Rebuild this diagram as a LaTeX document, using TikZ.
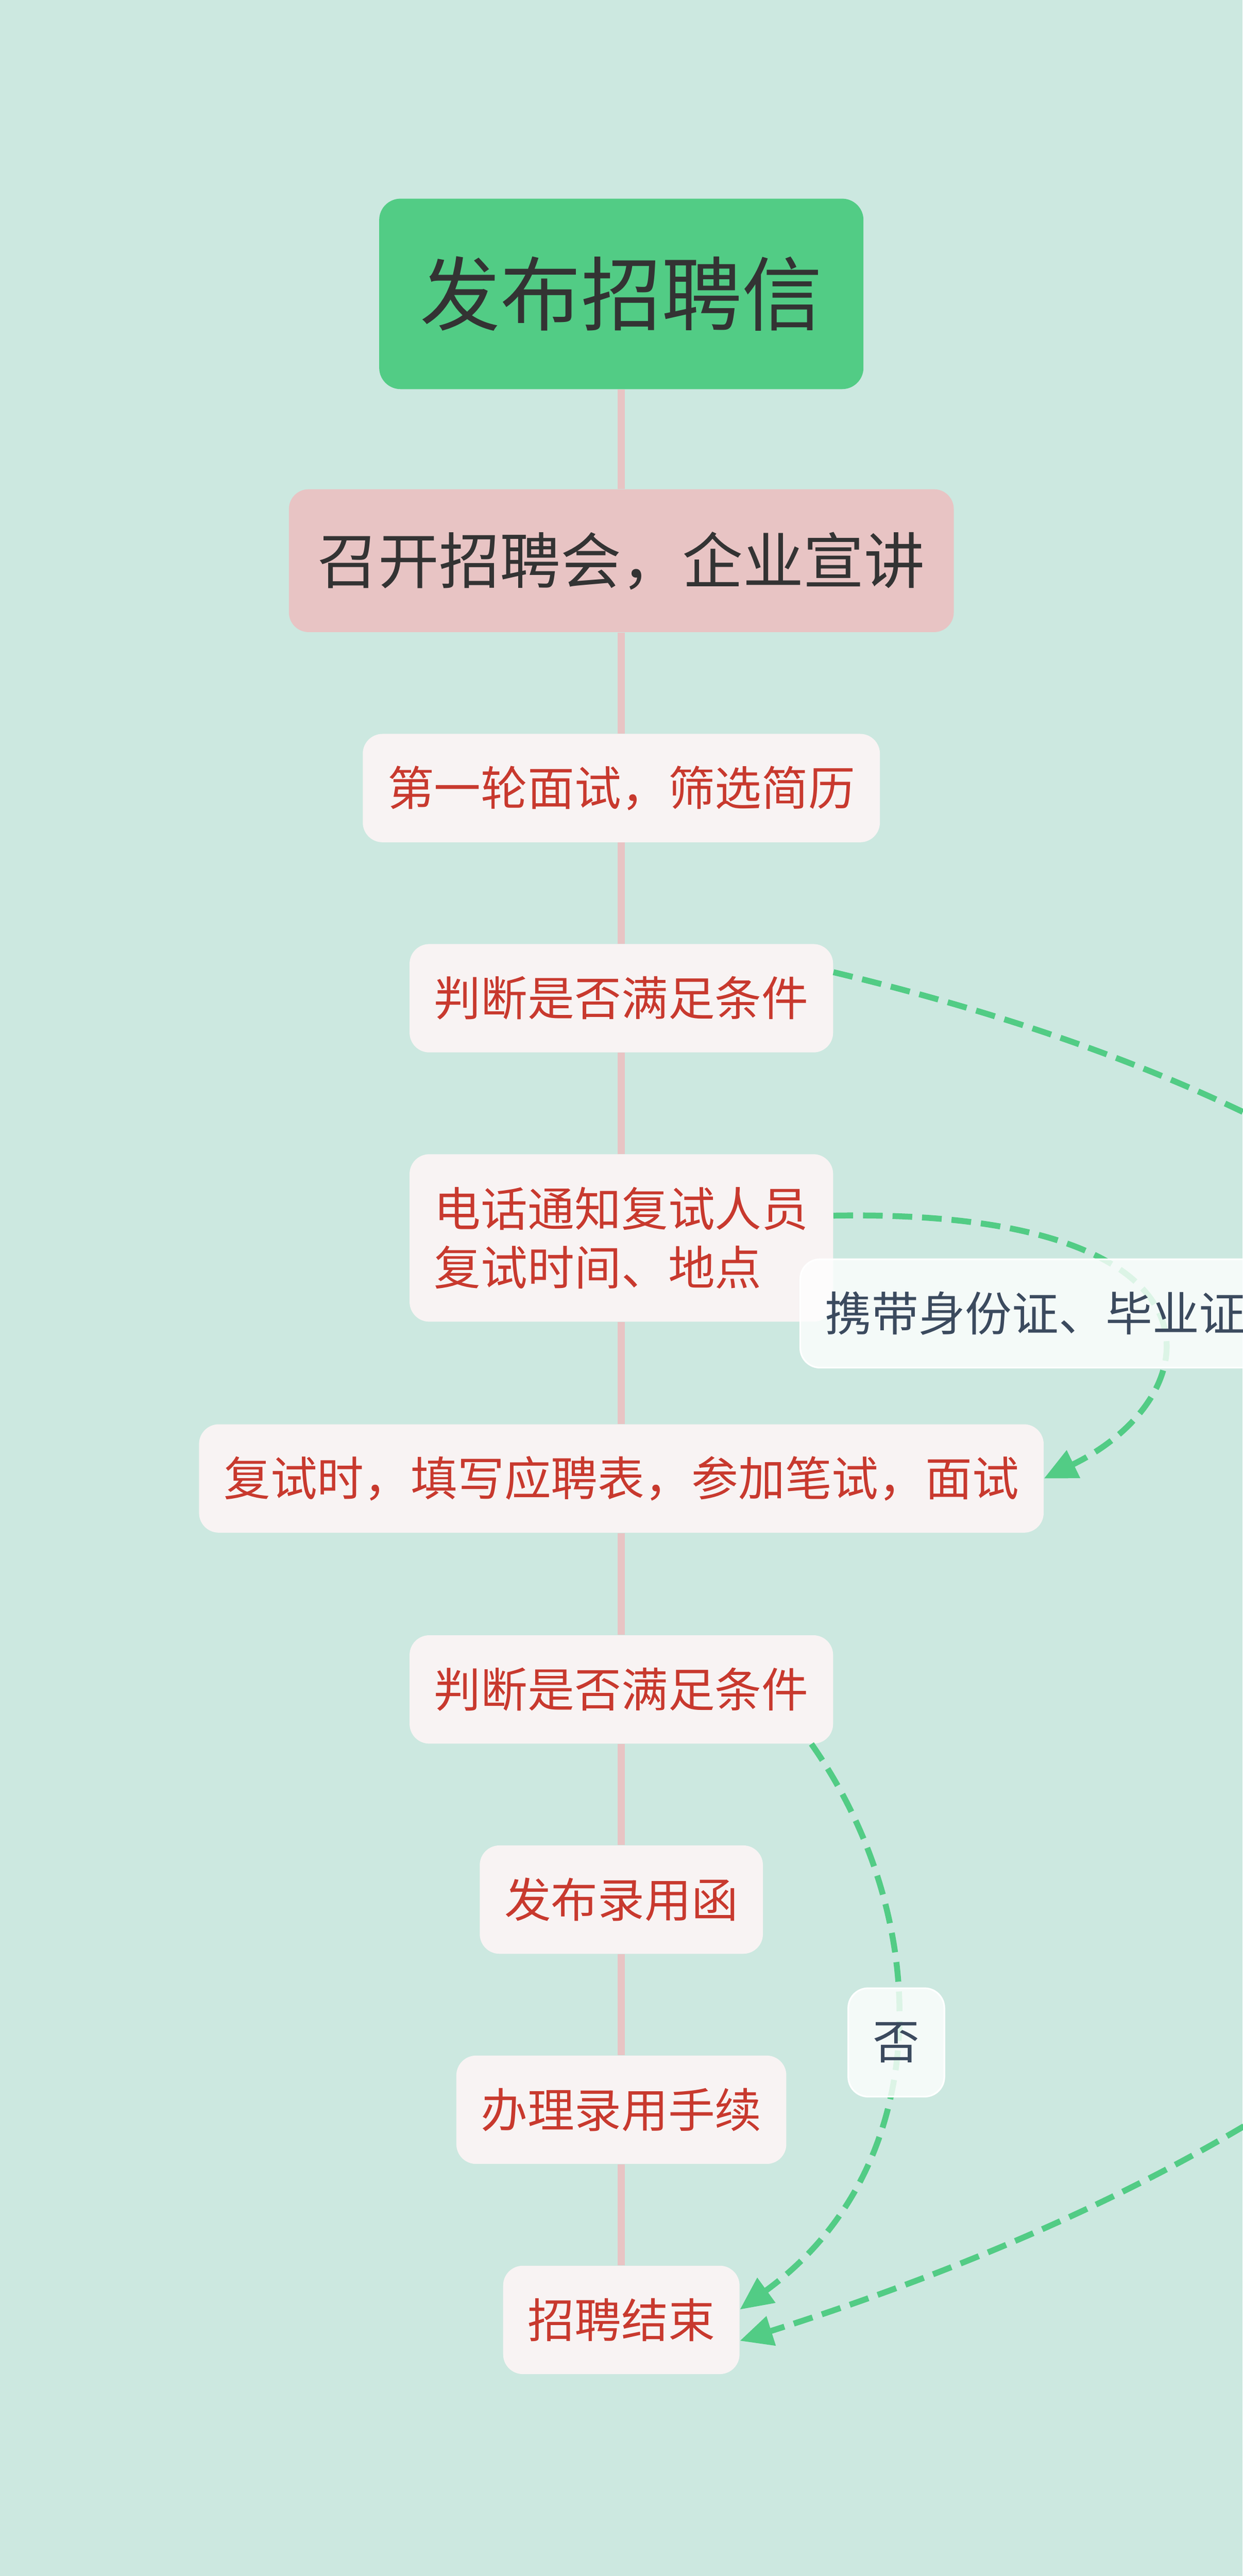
\documentclass[tikz,border=0pt]{standalone}
\usepackage{fontspec}
\setmainfont{Noto Sans CJK SC}
\usetikzlibrary{arrows.meta}
\definecolor{bgmint}{HTML}{CCE8E0}
\definecolor{headgreen}{HTML}{52CC85}
\definecolor{talkpink}{HTML}{E8C4C4}
\definecolor{stagefill}{HTML}{F8F3F3}
\definecolor{stagered}{HTML}{C8392E}
\definecolor{notetext}{HTML}{3B4A5E}
\definecolor{headtext}{HTML}{333333}

\begin{document}
\begin{tikzpicture}[x=1pt,y=-1pt,>={Triangle[length=20pt,width=18pt]},
	headbox/.style={fill=headgreen,text=headtext,rounded corners=13pt,
		minimum width=295pt,minimum height=116pt,inner sep=0pt,
		font=\fontsize{49}{56}\selectfont},
	talkbox/.style={fill=talkpink,text=headtext,rounded corners=12pt,
		inner xsep=17.5pt,inner ysep=0pt,minimum height=87pt,
		font=\fontsize{37}{44}\selectfont},
	stage/.style={fill=stagefill,text=stagered,rounded corners=12pt,
		inner xsep=15pt,inner ysep=0pt,minimum height=66pt,
		font=\fontsize{28.5}{36}\selectfont},
	note/.style={draw=white,line width=1pt,fill=white,fill opacity=0.8,
		text opacity=1,text=notetext,rounded corners=12pt,
		inner xsep=15pt,inner ysep=0pt,minimum height=66pt,
		font=\fontsize{28.5}{36}\selectfont},
	trunk/.style={draw=talkpink,line width=4.5pt},
	jump/.style={draw=headgreen,line width=3.6pt,dash pattern=on 12pt off 6pt}]
			%%%	Sfondo
			\fill[bgmint] (0,0) rectangle (757,1569);
			\useasboundingbox (0,0) rectangle (757,1569);
			%%%	Nodi
			\node[headbox] (n1) at (378.5,179) {发布招聘信};
			\node[talkbox] (n2) at (378.5,341.5) {召开招聘会，企业宣讲};
			\node[stage] (n3) at (378.5,480) {第一轮面试，筛选简历};
			\node[stage] (n4) at (378.5,608) {判断是否满足条件};
			\node[stage,align=left,minimum height=102pt] (n5) at (378.5,754) {电话通知复试人员\\复试时间、地点};
			\node[stage] (n6) at (378.5,900.5) {复试时，填写应聘表，参加笔试，面试};
			\node[stage] (n7) at (378.5,1029) {判断是否满足条件};
			\node[stage] (n8) at (378.5,1157) {发布录用函};
			\node[stage] (n9) at (378.5,1285) {办理录用手续};
			\node[stage] (n10) at (378.5,1413) {招聘结束};
			%%%	Tronco
			\foreach \a/\b in {n1/n2,n2/n3,n3/n4,n4/n5,n5/n6,n6/n7,n7/n8,n8/n9,n9/n10}
			\draw[trunk] (\a.south) -- (\b.north);
			%%%	Salti
			\draw[jump,->] (n4.7) .. controls (1208,760) and (1151,1204) .. (n10.-10);
			\draw[jump,->] (n5.6) .. controls (755,736) and (740,850) .. (n6.east);
			\draw[jump,->] (n7.-16) .. controls (570,1170) and (570,1320) .. (n10.5);
			%%%	Etichette
			\node[note,anchor=west] (carry) at (487,800) {携带身份证、毕业证};
			\node[note] (no) at (546,1244) {否};
		\end{tikzpicture}
\end{document}
